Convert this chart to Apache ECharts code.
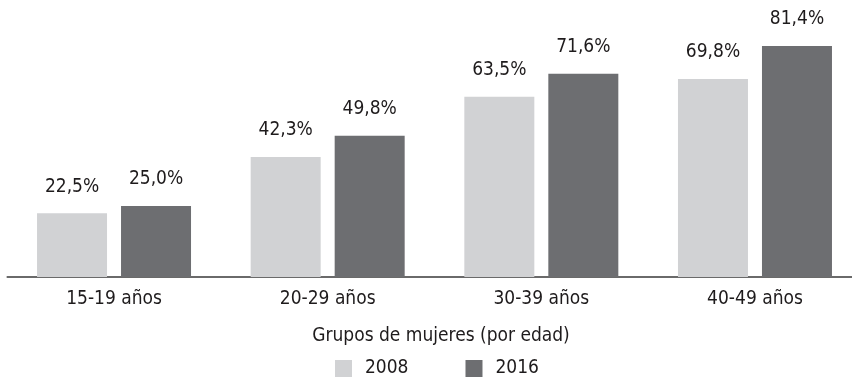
<!DOCTYPE html>
<html>
<head>
<meta charset="utf-8">
<script src="https://cdn.jsdelivr.net/npm/echarts@6/dist/echarts.min.js"></script>
<style>
  html, body { margin: 0; padding: 0; background: #fff; }
  #chart { width: 852px; height: 378px; }
</style>
</head>
<body>
<div id="chart"></div>
<script>
// Age groups and the share for each survey year (%)
const categories = ['15-19 años', '20-29 años', '30-39 años', '40-49 años'];
const values2008 = [22.5, 42.3, 63.5, 69.8];
const values2016 = [25.0, 49.8, 71.6, 81.4];
const seriesNames = ['2008', '2016'];
const axisTitle = 'Grupos de mujeres (por edad)';

const FONT = '"DejaVu Sans Condensed", "Liberation Sans Narrow", sans-serif';
const LIGHT = '#d1d2d4';
const DARK = '#6d6e71';
const INK = '#1e1b1c';

const fmt = p => p.value.toFixed(1).replace('.', ',') + '%';

const chart = echarts.init(document.getElementById('chart'), null, { renderer: 'canvas' });

chart.setOption({
  animation: false,
  textStyle: { fontFamily: FONT },
  // the plot runs a little past the right edge of the canvas
  grid: { left: 7.2, width: 854.6, top: 21.6, bottom: 101,
          containLabel: false, outerBoundsMode: 'none' },
  title: {
    text: axisTitle,
    left: 441,
    top: 327,
    padding: 0,
    textAlign: 'center',
    textStyle: { fontFamily: FONT, fontSize: 19, fontWeight: 'normal', color: INK }
  },
  legend: {
    data: seriesNames,
    left: 335,
    top: 359,
    padding: 0,
    itemWidth: 17,
    itemHeight: 17,
    itemGap: 57,
    icon: 'rect',
    textStyle: { fontFamily: FONT, fontSize: 19, color: INK, padding: [0, 0, 0, 8] }
  },
  xAxis: {
    type: 'category',
    data: categories,
    axisLine: { lineStyle: { color: '#3a3a3a', width: 1.5 } },
    axisTick: { show: false },
    axisLabel: { fontFamily: FONT, fontSize: 19, color: INK, margin: 13 }
  },
  yAxis: {
    type: 'value',
    min: 0,
    max: 90,
    show: false,
    splitLine: { show: false }
  },
  series: [
    {
      name: seriesNames[0],
      type: 'bar',
      data: values2008,
      barWidth: 70,
      barGap: '20%',
      itemStyle: { color: LIGHT },
      label: { show: true, position: 'top', distance: 17, formatter: fmt,
               fontFamily: FONT, fontSize: 19, color: INK }
    },
    {
      name: seriesNames[1],
      type: 'bar',
      data: values2016,
      barWidth: 70,
      barGap: '20%',
      itemStyle: { color: DARK },
      label: { show: true, position: 'top', distance: 17, formatter: fmt,
               fontFamily: FONT, fontSize: 19, color: INK }
    }
  ]
});
</script>
</body>
</html>
